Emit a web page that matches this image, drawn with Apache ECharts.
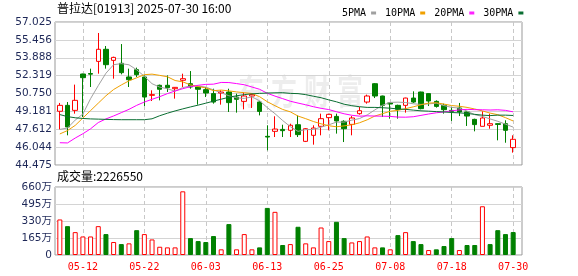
<!DOCTYPE html>
<html><head><meta charset="utf-8">
<script src="https://cdn.jsdelivr.net/npm/echarts@6/dist/echarts.min.js"></script>
<style>html,body{margin:0;padding:0;background:#fff}#c{width:578px;height:276px}</style>
</head><body><div id="c"></div>
<script>
const dates = ['05-07','05-08','05-09','05-12','05-13','05-14','05-15','05-16','05-19','05-20',
'05-21','05-22','05-23','05-26','05-27','05-28','05-29','05-30','06-02','06-03',
'06-04','06-05','06-06','06-09','06-10','06-11','06-12','06-13','06-16','06-17',
'06-18','06-19','06-20','06-23','06-24','06-25','06-26','06-27','06-30','07-02',
'07-03','07-04','07-07','07-08','07-09','07-10','07-11','07-14','07-15','07-16',
'07-17','07-18','07-21','07-22','07-23','07-24','07-25','07-28','07-29','07-30'];
const opens = [49.19,49.71,49.27,52.46,52.50,53.57,54.63,53.66,53.40,52.20,
52.84,52.20,50.59,51.47,51.47,51.17,51.91,51.61,51.32,51.09,
50.74,50.79,50.88,50.44,50.06,50.53,50.00,46.99,47.43,47.60,
47.52,48.01,46.55,47.08,47.87,48.63,48.74,48.31,48.04,48.98,
50.00,51.61,50.53,49.92,49.71,49.71,50.35,50.88,50.74,50.06,
49.71,49.27,49.48,49.13,48.48,47.87,47.96,48.10,48.10,46.00];
const closes = [49.71,47.81,50.15,52.14,52.45,54.63,53.28,53.92,52.58,51.96,
52.40,50.44,50.65,51.12,51.26,51.29,52.05,51.32,51.12,50.79,
50.00,50.88,49.95,50.24,50.53,50.65,49.18,46.93,47.63,47.49,
47.96,47.14,47.66,47.72,48.54,48.92,48.34,47.66,48.60,49.24,
50.53,50.53,49.71,49.83,49.36,50.35,50.00,49.42,50.09,49.62,
49.33,49.18,49.13,48.77,48.02,48.60,48.10,48.04,47.52,46.73];
const lows = [47.60,47.08,48.98,48.69,51.32,52.49,52.93,52.05,52.43,51.32,
52.20,49.65,50.09,50.15,50.88,50.30,51.32,51.17,49.77,50.44,
49.86,49.77,49.13,49.07,49.36,49.48,48.83,45.76,46.93,46.93,
46.93,46.93,46.49,46.26,47.08,47.52,47.23,46.49,47.08,48.89,
49.86,50.35,48.69,48.54,48.54,49.07,49.92,49.36,49.65,49.51,
48.98,48.34,48.77,47.90,47.43,47.87,47.66,46.64,46.43,45.56];
const highs = [49.92,50.00,51.53,52.49,52.93,56.06,54.92,53.98,55.09,52.93,
53.02,52.34,51.03,51.53,52.34,51.32,52.49,52.72,51.35,51.32,
51.17,51.03,51.17,50.74,50.82,50.68,50.06,47.96,48.75,48.01,
48.10,48.83,47.72,47.96,48.98,48.98,48.98,48.40,48.77,49.57,
50.65,51.66,50.56,50.00,49.77,50.38,50.94,50.91,50.77,50.15,
49.86,49.57,49.92,49.19,48.54,49.19,48.98,48.13,48.40,47.08];
const volumes = [3450000,2800000,2220000,1800000,1800000,2800000,2030000,1260000,1060000,1130000,
2410000,2030000,1510000,800000,740000,740000,6180000,1640000,1350000,1260000,
1840000,550000,3000000,550000,2030000,550000,740000,4570000,4190000,970000,
1060000,2740000,1130000,740000,2670000,1350000,3220000,1640000,1220000,1350000,
1800000,740000,740000,550000,1930000,2220000,1350000,1060000,480000,550000,
870000,1640000,480000,970000,970000,4730000,1060000,2410000,2030000,2226550];
const volumeUp = [1,0,1,1,1,1,0,1,0,1,
0,1,1,1,1,1,1,0,0,0,
0,1,0,1,1,1,0,0,1,0,
1,0,1,1,1,1,0,0,1,1,
1,1,0,1,0,1,0,0,1,0,
0,0,1,0,0,1,0,0,0,0];
const ma5 = [47.60,47.72,48.42,48.95,50.30,51.44,52.53,53.28,53.37,53.27,
52.83,52.26,51.61,51.31,51.17,50.95,51.27,51.41,51.41,51.31,
51.06,50.82,50.55,50.37,50.32,50.45,50.11,49.51,48.98,48.38,
47.84,47.43,47.58,47.59,47.80,48.00,48.24,48.24,48.41,48.55,
48.87,49.31,49.72,49.97,49.99,49.96,49.85,49.79,49.84,49.90,
49.69,49.53,49.47,49.21,48.89,48.74,48.52,48.31,48.06,47.80];
const ma10 = [47.20,47.50,47.95,48.60,49.25,49.90,50.55,51.10,51.50,51.86,
52.13,52.40,52.45,52.34,52.22,51.89,51.77,51.51,51.36,51.24,
51.00,51.05,50.98,50.89,50.82,50.75,50.47,50.03,49.68,49.35,
49.14,48.77,48.54,48.29,48.09,47.92,47.83,47.91,48.00,48.18,
48.44,48.77,48.98,49.19,49.27,49.42,49.58,49.76,49.91,49.94,
49.82,49.69,49.63,49.53,49.39,49.22,49.03,48.89,48.63,48.34];
const ma20 = [46.43,46.41,46.84,47.22,47.65,48.20,48.52,48.78,49.07,49.36,
49.71,50.00,50.24,50.47,50.74,50.97,51.17,51.35,51.47,51.55,
51.57,51.72,51.71,51.62,51.52,51.32,51.12,50.77,50.52,50.30,
50.07,49.91,49.76,49.59,49.45,49.34,49.15,48.97,48.84,48.76,
48.79,48.77,48.76,48.74,48.68,48.67,48.71,48.83,48.95,49.06,
49.13,49.23,49.31,49.36,49.33,49.32,49.30,49.32,49.27,49.14];
const ma30 = [48.90,48.72,48.62,48.56,48.52,48.50,48.48,48.46,48.45,48.45,
48.45,48.45,48.53,48.80,49.02,49.22,49.40,49.57,49.73,49.90,
50.08,50.25,50.42,50.55,50.65,50.72,50.76,50.79,50.81,50.82,
50.76,50.74,50.65,50.51,50.38,50.19,50.02,49.81,49.68,49.59,
49.53,49.53,49.50,49.46,49.39,49.36,49.29,49.23,49.20,49.16,
49.13,49.08,49.05,49.00,48.92,48.85,48.81,48.85,48.85,48.82];
const priceTicks = ['44.475','46.044','47.612','49.181','50.750','52.319','53.888','55.456','57.025'];
const volumeTicks = ['0','165万','330万','495万','660万'];
const stockTitle = '普拉达[01913] 2025-07-30 16:00';
const maNames = ['5PMA','10PMA','20PMA','30PMA'];

const RED = '#ff0000', GREEN = '#008000';
const MONO = '"DejaVu Sans Mono", monospace';
const CJK = '"Noto Sans CJK SC", sans-serif';
const labelEvery = (i) => i % 8 === 3;
const candleData = opens.map((o, i) => [o, closes[i], lows[i], highs[i]]);
const volData = volumes.map((v, i) => ({
  value: v,
  itemStyle: volumeUp[i]
    ? {color: '#ffffff', borderColor: RED, borderWidth: 1}
    : {color: GREEN, borderColor: GREEN, borderWidth: 1}
}));

const chart = echarts.init(document.getElementById('c'), null, {renderer: 'canvas'});
const gridLine = {show: true, lineStyle: {color: '#d4d4d4', width: 1, type: 'solid'}};
const vDash = {show: true, interval: labelEvery, alignWithLabel: true, lineStyle: {color: '#c8c8c8', width: 1, type: [4, 3]}};
const mkBox = (top, height) => ({left: 55, top: top, width: 467, height: height, show: true, borderColor: '#999', borderWidth: 1, backgroundColor: 'transparent', containLabel: false});
const mkData = (top, height) => ({left: 56, top: top, width: 461, height: height, containLabel: false});

chart.setOption({
  animation: false,
  backgroundColor: '#fff',
  textStyle: {fontFamily: MONO},
  legend: {
    data: maNames, left: 337, top: 3, align: 'right', icon: 'rect',
    itemWidth: 5, itemHeight: 3, itemGap: 9,
    textStyle: {fontFamily: MONO, fontSize: 10, color: '#000', padding: [0, 0, 0, 0]}
  },
  graphic: [
    {type: 'text', left: 57, top: 2, z: 10, style: {text: stockTitle, font: '12px ' + CJK, fill: '#000'}},
    {type: 'text', left: 57, top: 170, z: 10, style: {text: '成交量:' + volumes[volumes.length - 1], font: '12px ' + CJK, fill: '#000'}},
    {type: 'text', x: 238, y: 74, z: 0, scaleY: 1.35, style: {text: '东', font: 'bold 26px ' + CJK, fill: 'rgba(0,0,0,0.07)'}},
    {type: 'text', x: 271, y: 74, z: 0, scaleY: 1.35, style: {text: '方', font: 'bold 26px ' + CJK, fill: 'rgba(0,0,0,0.07)'}},
    {type: 'text', x: 304, y: 74, z: 0, scaleY: 1.35, style: {text: '财', font: 'bold 26px ' + CJK, fill: 'rgba(0,0,0,0.07)'}},
    {type: 'text', x: 337, y: 74, z: 0, scaleY: 1.35, style: {text: '富', font: 'bold 26px ' + CJK, fill: 'rgba(0,0,0,0.07)'}}
  ],
  grid: [mkBox(22, 143), mkData(22, 143), mkBox(187, 68), mkData(187, 68)],
  xAxis: [
    {gridIndex: 0, type: 'value', min: 0, max: 1, show: false},
    {gridIndex: 1, type: 'category', data: dates, boundaryGap: true,
     axisLine: {show: false}, axisTick: {show: false}, axisLabel: {show: false}, splitLine: vDash},
    {gridIndex: 2, type: 'value', min: 0, max: 1, show: false},
    {gridIndex: 3, type: 'category', data: dates, boundaryGap: true,
     axisLine: {show: false}, axisTick: {show: false},
     axisLabel: {show: true, interval: labelEvery, color: RED, fontFamily: MONO, fontSize: 10, margin: 7},
     splitLine: vDash}
  ],
  yAxis: [
    {gridIndex: 0, type: 'value', min: 0, max: 8, interval: 1,
     axisLine: {show: false}, axisTick: {show: false}, splitLine: gridLine,
     axisLabel: {formatter: (v) => priceTicks[Math.round(v)], color: '#1e2858', fontFamily: '"DejaVu Sans", sans-serif', fontSize: 10.5, margin: 3}},
    {gridIndex: 1, type: 'value', min: 44.475, max: 57.025, show: false, splitLine: {show: false}},
    {gridIndex: 2, type: 'value', min: 0, max: 4, interval: 1,
     axisLine: {show: false}, axisTick: {show: false}, splitLine: gridLine,
     axisLabel: {formatter: (v) => volumeTicks[Math.round(v)], color: '#1e2858', fontFamily: '"DejaVu Sans", "Noto Sans CJK SC", sans-serif', fontSize: 10.5, margin: 3}},
    {gridIndex: 3, type: 'value', min: 0, max: 6600000, show: false, splitLine: {show: false}}
  ],
  series: [
    {type: 'candlestick', xAxisIndex: 1, yAxisIndex: 1, data: candleData, barWidth: 5, z: 3,
     itemStyle: {color: '#ffffff', color0: GREEN, borderColor: RED, borderColor0: GREEN, borderWidth: 1}},
    {name: maNames[0], type: 'line', xAxisIndex: 1, yAxisIndex: 1, data: ma5, symbol: 'none', z: 4,
     lineStyle: {width: 1, color: '#a0a0a0'}, itemStyle: {color: '#a0a0a0'}},
    {name: maNames[1], type: 'line', xAxisIndex: 1, yAxisIndex: 1, data: ma10, symbol: 'none', z: 4,
     lineStyle: {width: 1, color: '#f0a000'}, itemStyle: {color: '#f0a000'}},
    {name: maNames[2], type: 'line', xAxisIndex: 1, yAxisIndex: 1, data: ma20, symbol: 'none', z: 4,
     lineStyle: {width: 1, color: '#ff00ff'}, itemStyle: {color: '#ff22ff'}},
    {name: maNames[3], type: 'line', xAxisIndex: 1, yAxisIndex: 1, data: ma30, symbol: 'none', z: 4,
     lineStyle: {width: 1, color: '#0a6e32'}, itemStyle: {color: '#0a6e32'}},
    {type: 'bar', xAxisIndex: 3, yAxisIndex: 3, data: volData, barWidth: 5}
  ]
});
</script></body></html>
